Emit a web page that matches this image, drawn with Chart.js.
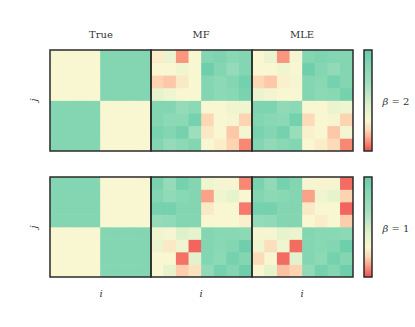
<!DOCTYPE html>
<html>
<head>
<meta charset="utf-8">
<script src="https://cdn.jsdelivr.net/npm/chart.js@4"></script>
<style>
  body{margin:0;background:#fff;width:415px;height:327px;position:relative;overflow:hidden;font-family:"DejaVu Serif","Liberation Serif",serif;color:#333;}
  canvas{position:absolute;}
  .lbl{position:absolute;font-size:10px;transform:translate(-50%,-50%);white-space:nowrap;}
  .it{font-style:italic;}
</style>
</head>
<body>
<canvas id="row1" style="left:48px;top:48px" width="307" height="105"></canvas>
<canvas id="row2" style="left:48px;top:175px" width="307" height="104"></canvas>
<canvas id="cb1" style="left:362px;top:48px" width="12" height="105"></canvas>
<canvas id="cb2" style="left:362px;top:175px" width="12" height="104"></canvas>

<div class="lbl" style="left:101px;top:34px">True</div>
<div class="lbl" style="left:201px;top:34px">MF</div>
<div class="lbl" style="left:302px;top:34px">MLE</div>
<div class="lbl it" style="left:33px;top:100px;transform:translate(-50%,-50%) rotate(-90deg)">j</div>
<div class="lbl it" style="left:33px;top:227px;transform:translate(-50%,-50%) rotate(-90deg)">j</div>
<div class="lbl it" style="left:101px;top:293px">i</div>
<div class="lbl it" style="left:201px;top:293px">i</div>
<div class="lbl it" style="left:302px;top:293px">i</div>
<div class="lbl" style="left:396px;top:101px"><span class="it">β</span> = 2</div>
<div class="lbl" style="left:396px;top:228px"><span class="it">β</span> = 1</div>

<script>
// valores na escala da barra de cores (0 = vermelho, ~0.3 = creme, 1 = verde)
let c = 0.3, g = 0.85;

let verdade2 = [
  [c,c,c,c,g,g,g,g],[c,c,c,c,g,g,g,g],[c,c,c,c,g,g,g,g],[c,c,c,c,g,g,g,g],
  [g,g,g,g,c,c,c,c],[g,g,g,g,c,c,c,c],[g,g,g,g,c,c,c,c],[g,g,g,g,c,c,c,c]
];
let mf2 = [
  [0.27,0.38,0.10,0.30,0.85,0.88,0.82,0.85],
  [0.30,0.30,0.36,0.30,0.95,0.85,0.75,0.85],
  [0.20,0.18,0.26,0.30,0.85,0.80,0.85,0.93],
  [0.40,0.36,0.30,0.30,0.85,0.80,0.82,0.90],
  [0.85,0.85,0.75,0.80,0.30,0.30,0.36,0.36],
  [0.85,0.80,0.80,0.92,0.21,0.30,0.32,0.20],
  [0.90,0.85,0.92,0.70,0.26,0.30,0.18,0.33],
  [0.85,0.75,0.80,0.85,0.30,0.27,0.20,0.08]
];
let mle2 = [
  [0.30,0.38,0.10,0.32,0.85,0.88,0.85,0.85],
  [0.30,0.30,0.36,0.30,0.95,0.85,0.78,0.85],
  [0.21,0.18,0.28,0.32,0.85,0.82,0.92,0.85],
  [0.38,0.34,0.30,0.30,0.85,0.80,0.82,0.92],
  [0.88,0.88,0.78,0.80,0.30,0.30,0.38,0.36],
  [0.85,0.82,0.80,0.93,0.22,0.30,0.32,0.20],
  [0.90,0.85,0.92,0.72,0.28,0.30,0.18,0.33],
  [0.85,0.78,0.82,0.85,0.30,0.27,0.22,0.08]
];

let verdade1 = [
  [g,g,g,g,c,c,c,c],[g,g,g,g,c,c,c,c],[g,g,g,g,c,c,c,c],[g,g,g,g,c,c,c,c],
  [c,c,c,c,g,g,g,g],[c,c,c,c,g,g,g,g],[c,c,c,c,g,g,g,g],[c,c,c,c,g,g,g,g]
];
let mf1 = [
  [0.90,0.75,0.92,0.85,0.36,0.32,0.32,0.08],
  [0.85,0.78,0.82,0.85,0.12,0.36,0.40,0.30],
  [0.92,0.92,0.85,0.85,0.26,0.30,0.30,0.06],
  [0.75,0.78,0.85,0.85,0.30,0.30,0.30,0.28],
  [0.36,0.32,0.45,0.40,0.85,0.82,0.82,0.80],
  [0.38,0.26,0.36,0.03,0.85,0.82,0.85,0.95],
  [0.30,0.30,0.05,0.42,0.85,0.80,0.92,0.85],
  [0.30,0.40,0.19,0.24,0.78,0.92,0.85,0.95]
];
let mle1 = [
  [0.90,0.78,0.92,0.85,0.32,0.29,0.32,0.04],
  [0.85,0.80,0.82,0.85,0.12,0.36,0.40,0.20],
  [0.92,0.92,0.85,0.85,0.26,0.30,0.30,0.03],
  [0.75,0.78,0.85,0.85,0.30,0.27,0.30,0.19],
  [0.32,0.32,0.40,0.38,0.85,0.82,0.82,0.80],
  [0.36,0.23,0.36,0.04,0.85,0.82,0.85,0.95],
  [0.22,0.30,0.04,0.42,0.85,0.80,0.92,0.85],
  [0.30,0.40,0.17,0.20,0.78,0.92,0.85,0.95]
];

let paineis = ["True", "MF", "MLE"];

// mapa de cores: vermelho -> creme -> verde
let paradas = [
  [0.00, [238, 80, 80]],
  [0.10, [250,150,125]],
  [0.20, [252,212,178]],
  [0.30, [249,247,210]],
  [0.45, [222,241,203]],
  [0.65, [165,224,192]],
  [0.85, [132,214,178]],
  [1.00, [100,204,170]]
];

function cor(v){
  for(let i=1;i<paradas.length;i++){
    if(v<=paradas[i][0]){
      let a=paradas[i-1], b=paradas[i];
      let t=(v-a[0])/(b[0]-a[0]);
      let rgb=a[1].map((x,k)=>Math.round(x+(b[1][k]-x)*t));
      return "rgb("+rgb.join(",")+")";
    }
  }
  return "rgb("+paradas[paradas.length-1][1].join(",")+")";
}

let moldura = {
  id:"moldura",
  afterDraw(ch, args, opts){
    let a = ch.chartArea, ctx = ch.ctx;
    let n = opts.n || 1;
    let w = (a.right-a.left)/n;
    ctx.save();
    ctx.strokeStyle = "#2a2a2a";
    ctx.lineWidth = 1.5;
    for(let k=0;k<n;k++){
      ctx.strokeRect(a.left+k*w, a.top, w, a.bottom-a.top);
    }
    ctx.restore();
  }
};

function heatmap(id, mats){
  let labels = [];
  for(let i=0;i<24;i++) labels.push(String(i));
  let datasets = [];
  for(let r=0;r<8;r++){
    let linha = [], cores = [];
    mats.forEach(m=>{
      m[r].forEach(v=>{
        linha.push([r, r+1]);
        cores.push(cor(v));
      });
    });
    datasets.push({data:linha, backgroundColor:cores, borderWidth:0,
      barPercentage:1, categoryPercentage:1, grouped:false});
  }
  new Chart(document.getElementById(id), {
    type:"bar",
    data:{labels:labels, datasets:datasets},
    options:{
      responsive:false, animation:false,
      layout:{padding:2},
      scales:{
        x:{display:false},
        y:{display:false, min:0, max:8, reverse:true}
      },
      plugins:{legend:{display:false}, tooltip:{enabled:false}, moldura:{n:3}}
    },
    plugins:[moldura]
  });
}

function barraCores(id){
  new Chart(document.getElementById(id), {
    type:"bar",
    data:{labels:["cb"], datasets:[{
      data:[[0,1]], borderWidth:0, barPercentage:1, categoryPercentage:1,
      backgroundColor:function(ctx){
        let a = ctx.chart.chartArea;
        if(!a) return "#ccc";
        let grad = ctx.chart.ctx.createLinearGradient(0, a.bottom, 0, a.top);
        paradas.forEach(p=>grad.addColorStop(p[0], "rgb("+p[1].join(",")+")"));
        return grad;
      }
    }]},
    options:{
      responsive:false, animation:false,
      layout:{padding:2},
      scales:{x:{display:false}, y:{display:false, min:0, max:1}},
      plugins:{legend:{display:false}, tooltip:{enabled:false}, moldura:{n:1}}
    },
    plugins:[moldura]
  });
}

heatmap("row1", [verdade2, mf2, mle2]);
heatmap("row2", [verdade1, mf1, mle1]);
barraCores("cb1");
barraCores("cb2");
</script>
</body>
</html>
